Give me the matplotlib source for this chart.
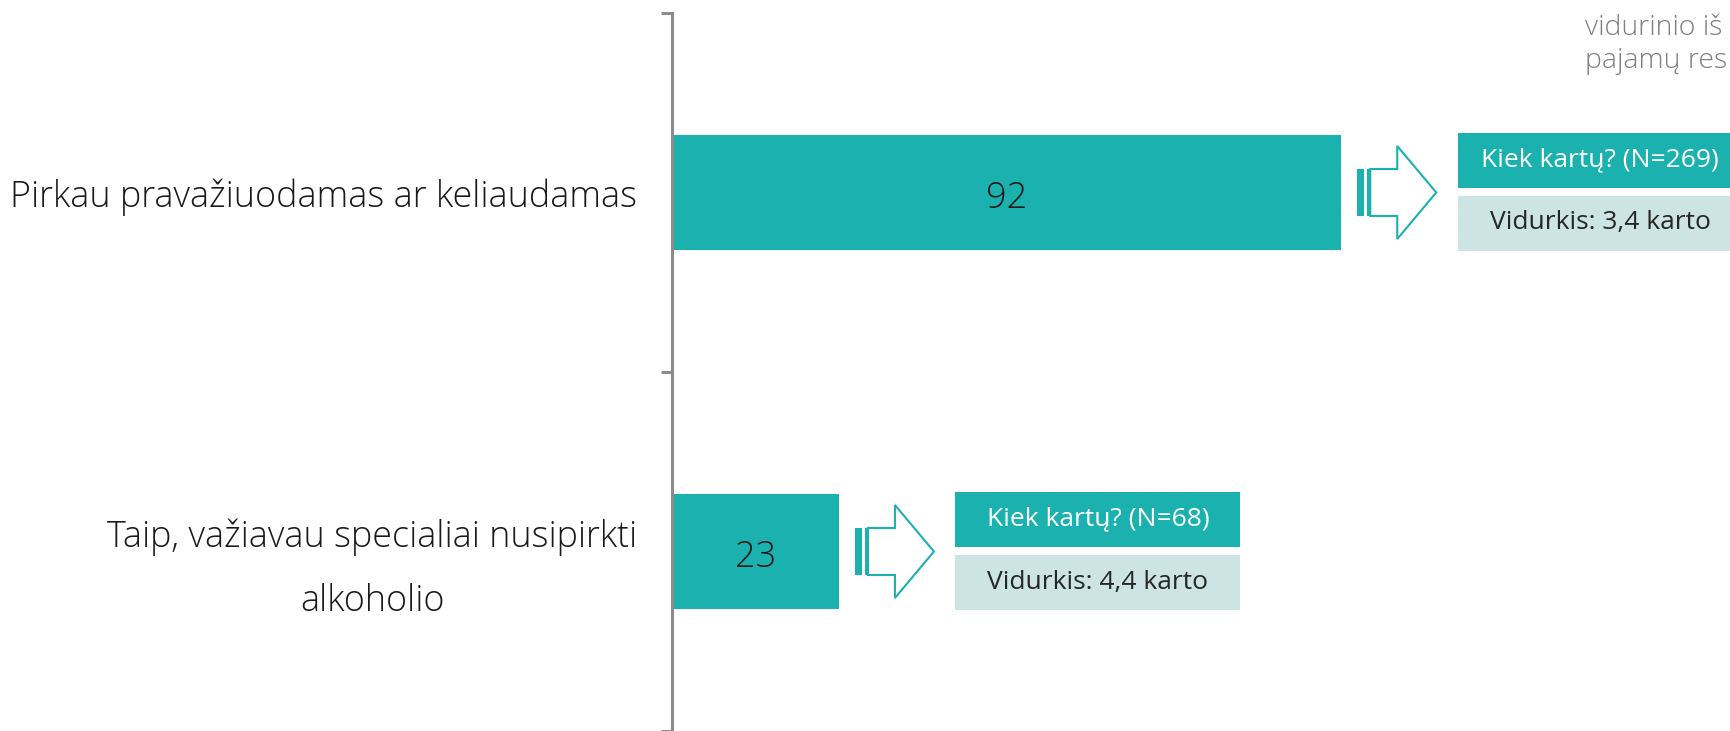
import matplotlib
matplotlib.use("Agg")
import matplotlib.pyplot as plt
import matplotlib.patches as mpatches
import matplotlib.transforms as mtransforms

plt.rcParams['font.family'] = ['Open Sans', 'DejaVu Sans']

# data
categories = ["Pirkau pravažiuodamas ar keliaudamas",
              "Taip, važiavau specialiai nusipirkti\nalkoholio"]
values = [92, 23]
n_resp = [269, 68]
avg_times = [3.4, 4.4]
note_lines = ["vidurinio iš", "pajamų res"]

TEAL = '#1BB1AF'
LIGHT = '#CCE4E3'
AXIS_GRAY = '#8C8C8C'

W, H = 1731, 731
fig = plt.figure(figsize=(W / 100, H / 100), dpi=100)
fig.patch.set_facecolor('white')

ax_left = 671.5
ax_top = 13
band_px = 362
px_per_unit = 7.28

ax = fig.add_axes([ax_left / W, 0, 1 - ax_left / W, (H - ax_top) / H])
ax.set_xlim(0, (W - ax_left) / px_per_unit)
ax.set_ylim(-0.5 + (H - ax_top) / band_px, -0.5)

ypos = list(range(len(values)))
bars = ax.barh(ypos, values, height=115 / band_px, color=TEAL, zorder=1)

for sp in ['top', 'right', 'bottom']:
    ax.spines[sp].set_visible(False)
ax.spines['left'].set_color(AXIS_GRAY)
ax.spines['left'].set_linewidth(2.2)
ax.set_xticks([])
ax.set_yticks([-0.5, 0.5, 1.5])
ax.set_yticklabels([])
ax.tick_params(axis='y', which='major', length=8, width=2.2, color=AXIS_GRAY)
ax.set_yticks(ypos, minor=True)
ax.set_yticklabels(categories, minor=True)
ax.tick_params(axis='y', which='minor', length=0, pad=24.5,
               labelsize=25.8, labelcolor='#1a1a1a')
for t in ax.get_yticklabels(minor=True):
    t.set_multialignment('center')
    t.set_linespacing(1.95)
    t.set_fontweight('light')

# value labels sit a touch below the bar centre, as in the original
for i, v in enumerate(values):
    ax.text(v / 2, i + 0.017, f'{v}', ha='center', va='center', fontsize=26,
            fontweight='light', color='#1a1a1a')

# arrow + info boxes, in pixel offsets from the bar end (y down)
for i, v in enumerate(values):
    tr = (mtransforms.Affine2D().scale(1, -1)
          + mtransforms.ScaledTranslation(v, i, ax.transData))
    ax.add_patch(mpatches.Rectangle((16, -23.5), 7, 47, facecolor=TEAL,
                                    edgecolor='none', transform=tr, clip_on=False))
    ax.add_patch(mpatches.Rectangle((26, -23.5), 3, 47, facecolor=TEAL,
                                    edgecolor='none', transform=tr, clip_on=False))
    body = [(29, -23.5), (56, -23.5), (56, -46.5), (95, 0),
            (56, 46.5), (56, 23.5), (29, 23.5)]
    ax.add_patch(mpatches.Polygon(body, closed=True, facecolor='white',
                                  edgecolor=TEAL, linewidth=1.5,
                                  joinstyle='miter', transform=tr, clip_on=False))
    bx, bw = 116.5, 285
    ax.add_patch(mpatches.Rectangle((bx, -60), bw, 55, facecolor=TEAL,
                                    edgecolor='none', transform=tr, clip_on=False))
    ax.add_patch(mpatches.Rectangle((bx, 3), bw, 55, facecolor=LIGHT,
                                    edgecolor='none', transform=tr, clip_on=False))
    ax.text(bx + bw / 2, -32.5, f'Kiek kartų? (N={n_resp[i]})', transform=tr,
            ha='center', va='center', fontsize=19, color='white', clip_on=False)
    avg_txt = f'{avg_times[i]:.1f}'.replace('.', ',')
    ax.text(bx + bw / 2, 30.5, f'Vidurkis: {avg_txt} karto', transform=tr,
            ha='center', va='center', fontsize=19, color='#262626', clip_on=False)

# note text in the top-right corner (cut short in the original slide)
for k, line in enumerate(note_lines):
    fig.text(1585 / W, 1 - (35 + 33 * k) / H, line, ha='left', va='baseline',
             fontsize=20.5, fontweight='light', color='#7F7F7F')

fig.savefig('out.png', dpi=100, facecolor='white')
